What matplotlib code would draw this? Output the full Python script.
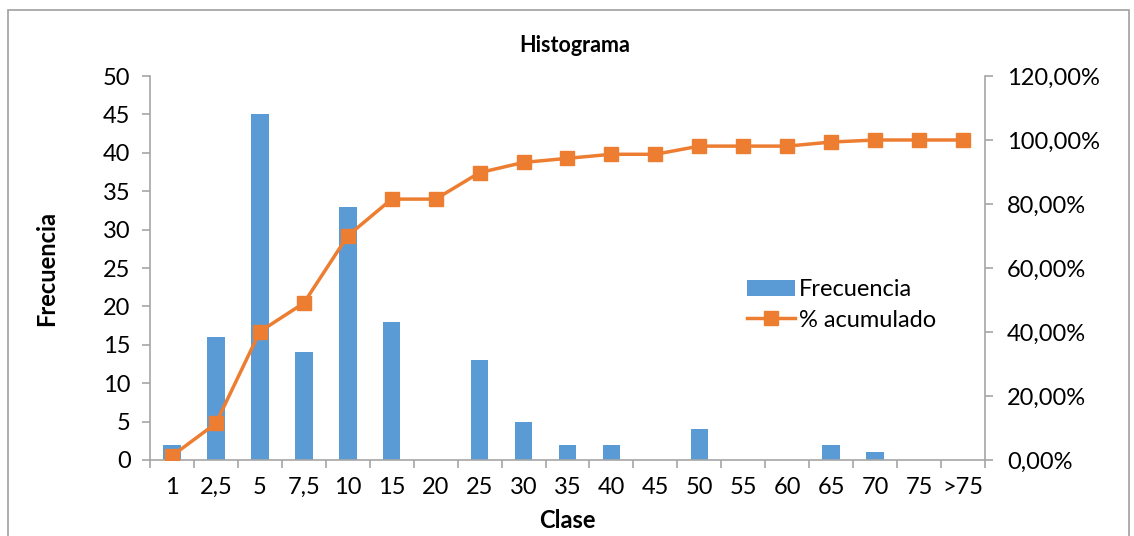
import matplotlib
matplotlib.use("Agg")
import matplotlib.pyplot as plt
from matplotlib.patches import Rectangle
from matplotlib.ticker import FuncFormatter, FixedLocator
import numpy as np

# class labels and frequencies
clases = ["1", "2,5", "5", "7,5", "10", "15", "20", "25", "30", "35",
          "40", "45", "50", "55", "60", "65", "70", "75", ">75"]
frecuencia = [2, 16, 45, 14, 33, 18, 0, 13, 5, 2, 2, 0, 4, 0, 0, 2, 1, 0, 0]
# cumulative percentage
acumulado = [1.27, 11.46, 40.13, 49.04, 70.06, 81.53, 81.53, 89.81, 92.99, 94.27,
             95.54, 95.54, 98.09, 98.09, 98.09, 99.36, 100.0, 100.0, 100.0]

plt.rcParams["font.family"] = ["Lato", "DejaVu Sans"]

bar_color = "#5B9BD5"
line_color = "#ED7D31"
axis_color = "#A6A6A6"
fs = 17

fig = plt.figure(figsize=(11.34, 5.36), dpi=100)
fig.patches.append(Rectangle((8 / 1134, -0.05), 1121 / 1134, 1.05 - 10 / 536,
                             transform=fig.transFigure, fill=False,
                             edgecolor="#A0A0A0", linewidth=1.2))

ax = fig.add_axes([150 / 1134, 1 - 460 / 536, 835 / 1134, 384 / 536])
x = np.arange(len(clases))
bars = ax.bar(x, frecuencia, width=0.4, color=bar_color, label="Frecuencia", zorder=2)
ax.set_xlim(-0.5, len(clases) - 0.5)
ax.set_ylim(0, 50)
ax.set_yticks(range(0, 51, 5))
ax.set_xticks(x)
ax.set_xticklabels(clases)
ax.xaxis.set_minor_locator(FixedLocator(np.arange(-0.5, len(clases), 1.0)))
ax.tick_params(axis="x", which="major", length=0, pad=12, labelsize=fs)
ax.tick_params(axis="x", which="minor", length=6, color=axis_color, width=1.2)
ax.tick_params(axis="y", length=6, color=axis_color, width=1.2, pad=8, labelsize=fs)
for side in ["top", "right"]:
    ax.spines[side].set_visible(False)
for side in ["left", "bottom"]:
    ax.spines[side].set_color(axis_color)
    ax.spines[side].set_linewidth(1.2)

fig.text(47 / 1134, 1 - 268 / 536, "Frecuencia", rotation=90, ha="center", va="center",
         fontsize=fs, fontweight="bold")
fig.text(567 / 1134, 1 - 520 / 536, "Clase", ha="center", va="center",
         fontsize=fs, fontweight="bold")
fig.text(575 / 1134, 1 - 45 / 536, "Histograma", ha="center", va="center",
         fontsize=15.5, fontweight="bold")

ax2 = ax.twinx()
pct = np.array(acumulado) / 100
line, = ax2.plot(x, pct, color=line_color, linewidth=2.5, marker="s",
                 markersize=10, label="% acumulado", zorder=3)
ax2.set_ylim(0, 1.2)
ax2.set_yticks(np.arange(0, 1.21, 0.2))
ax2.yaxis.set_major_formatter(FuncFormatter(lambda v, _: f"{v * 100:.2f}%".replace(".", ",")))
ax2.tick_params(axis="y", length=6, color=axis_color, width=1.2, pad=10, labelsize=fs)
for side in ["top", "left", "bottom"]:
    ax2.spines[side].set_visible(False)
ax2.spines["right"].set_color(axis_color)
ax2.spines["right"].set_linewidth(1.2)

ax2.legend([bars, line], ["Frecuencia", "% acumulado"], loc="center left",
           bbox_to_anchor=(0.69, 1 - (305 - 76) / 384), frameon=False, fontsize=fs,
           handlelength=2.0, handletextpad=0.2, labelspacing=0.4)

fig.savefig("out.png", dpi=100)
